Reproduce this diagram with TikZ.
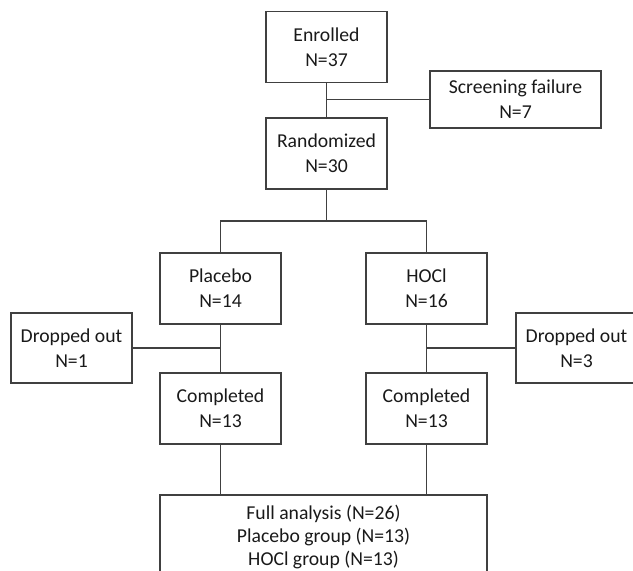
\documentclass[tikz,border=0pt]{standalone}
\usepackage{fontspec}
\setmainfont{Carlito}
\usepackage{tikz}

\begin{document}
\begin{tikzpicture}[x=0.025cm, y=-0.025cm,
		box/.style={draw=black!75, line width=0.8pt, align=center, inner sep=0pt,
			minimum width=3.025cm, minimum height=1.775cm,
			font=\fontsize{14}{17.6}\selectfont, text=black!90},
		link/.style={draw=black!75, line width=0.8pt}]
		%%%%% START %%%%%
		
		\useasboundingbox (0, 0) rectangle (633, 571);
		\clip (0, 0) rectangle (633, 571);
		
		\node[box] (enr) at (326.5, 47) {Enrolled\\N=37};
		\node[box, minimum width=4.275cm, minimum height=1.425cm] (scr) at (515.5, 99.5) {Screening failure\\N=7};
		\node[box] (rand) at (326.5, 153.5) {Randomized\\N=30};
		
		\node[box] (plac) at (220.5, 288.5) {Placebo\\N=14};
		\node[box] (hocl) at (426.5, 288.5) {HOCl\\N=16};
		
		\node[box, minimum height=1.75cm] (dropa) at (71.5, 348) {Dropped out\\N=1};
		\node[box, minimum height=1.75cm] (dropb) at (576.5, 348) {Dropped out\\N=3};
		
		\node[box] (compa) at (220.5, 408.5) {Completed\\N=13};
		\node[box] (compb) at (426.5, 408.5) {Completed\\N=13};
		
		\node[box, minimum width=8.175cm, minimum height=2.1cm, font=\fontsize{14}{16.7}\selectfont] (full) at (323.5, 537) {Full analysis (N=26)\\Placebo group (N=13)\\HOCl group (N=13)};
		
		% links
		\draw[link] (enr) -- (rand);
		\draw[link] (scr) -- (scr -| enr);
		
		\coordinate (split) at (326.5, 221);
		\draw[link] (rand) -- (split);
		\draw[link] (plac) |- (split) -| (hocl);
		
		\draw[link] (plac) -- (compa);
		\draw[link] (dropa) -- (dropa -| plac);
		\draw[link] (hocl) -- (compb);
		\draw[link] (dropb) -- (dropb -| hocl);
		
		\draw[link] (compa.south) -- (compa.south |- full.north);
		\draw[link] (compb.south) -- (compb.south |- full.north);
		
		%%%%% END %%%%%
	\end{tikzpicture}
\end{document}
